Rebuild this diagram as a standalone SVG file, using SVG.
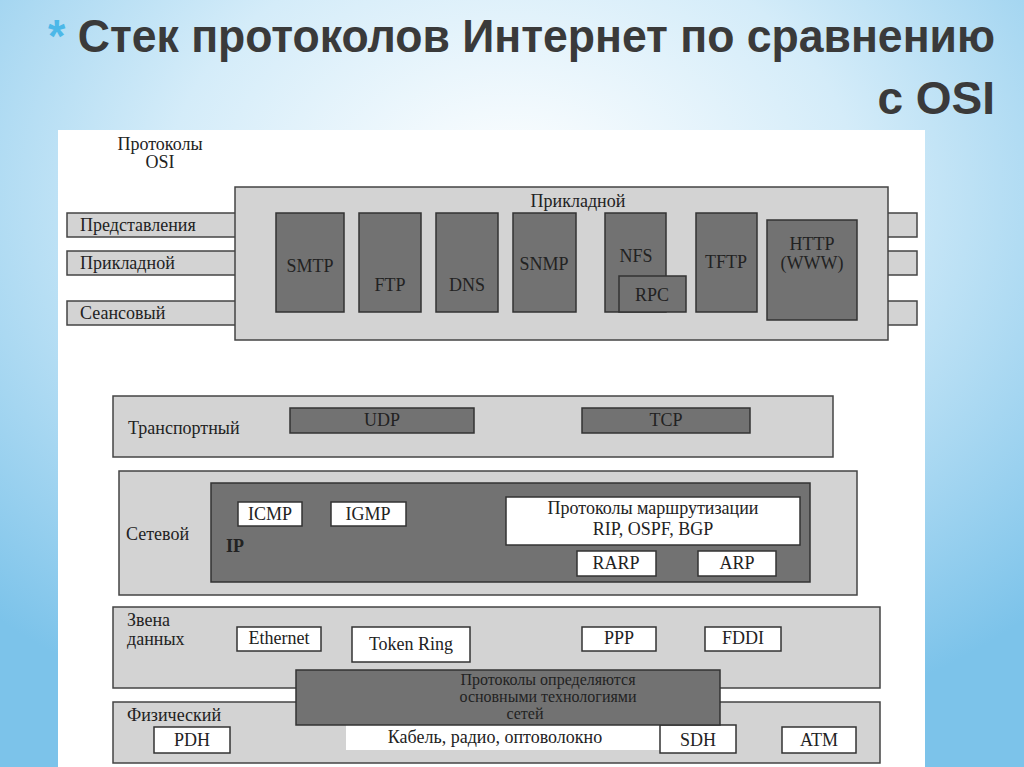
<svg xmlns="http://www.w3.org/2000/svg" width="1024" height="767" viewBox="0 0 1024 767">
<defs>
<radialGradient id="bg" cx="0.5" cy="0.25" r="0.75">
<stop offset="0" stop-color="#ffffff"/><stop offset="0.45" stop-color="#d4ecf9"/><stop offset="1" stop-color="#7cc3ea"/>
</radialGradient>
</defs>
<style>
.l{fill:#d3d3d3;stroke:#444;stroke-width:1.5}
.d{fill:#727272;stroke:#333;stroke-width:1.5}
.w{fill:#fff;stroke:#333;stroke-width:1.5}
text{font-family:"Liberation Serif",serif;font-size:18px;fill:#222}
.c{text-anchor:middle}
.s{font-size:16px}
.t{font-family:"Liberation Sans",sans-serif;font-weight:bold;font-size:46px;fill:#3a3a3a}
</style>
<rect width="1024" height="767" fill="url(#bg)"/>
<text class="t" x="48" y="52" textLength="947" lengthAdjust="spacingAndGlyphs"><tspan fill="#4cb8e8">*</tspan> Стек протоколов Интернет по сравнению</text>
<text class="t" x="995" y="114" text-anchor="end">с OSI</text>
<rect x="58" y="130" width="867" height="637" fill="#fff"/>
<g id="osi-label"><text class="c" x="160" y="150">Протоколы</text><text class="c" x="160" y="168">OSI</text></g>
<g id="app">
<rect class="l" x="67" y="213" width="173" height="24"/><text x="80" y="231">Представления</text>
<rect class="l" x="67" y="251" width="173" height="24"/><text x="80" y="269">Прикладной</text>
<rect class="l" x="67" y="301" width="173" height="24"/><text x="80" y="319">Сеансовый</text>
<rect class="l" x="885" y="213" width="32" height="24"/>
<rect class="l" x="885" y="251" width="32" height="24"/>
<rect class="l" x="885" y="301" width="32" height="24"/>
<rect class="l" x="235" y="187" width="653" height="153"/>
<text class="c" x="578" y="207">Прикладной</text>
<rect class="d" x="276" y="213" width="68" height="99"/><text class="c" x="310" y="272">SMTP</text>
<rect class="d" x="359" y="213" width="62" height="99"/><text class="c" x="390" y="291">FTP</text>
<rect class="d" x="436" y="213" width="62" height="99"/><text class="c" x="467" y="291">DNS</text>
<rect class="d" x="513" y="213" width="63" height="99"/><text class="c" x="544" y="270">SNMP</text>
<rect class="d" x="605" y="213" width="61" height="99"/><text class="c" x="636" y="262">NFS</text>
<rect class="d" x="619" y="276" width="67" height="36"/><text class="c" x="652" y="301">RPC</text>
<rect class="d" x="696" y="213" width="61" height="99"/><text class="c" x="726" y="268">TFTP</text>
<rect class="d" x="767" y="220" width="90" height="100"/><text class="c" x="812" y="250">HTTP</text><text class="c" x="812" y="269">(WWW)</text>
</g>
<g id="transport">
<rect class="l" x="113" y="396" width="720" height="61"/><text x="128" y="434">Транспортный</text>
<rect class="d" x="290" y="408" width="184" height="25"/><text class="c" x="382" y="426">UDP</text>
<rect class="d" x="582" y="408" width="168" height="25"/><text class="c" x="666" y="426">TCP</text>
</g>
<g id="network">
<rect class="l" x="119" y="471" width="738" height="124"/><text x="126" y="540">Сетевой</text>
<rect class="d" x="211" y="483" width="599" height="99" fill="#666"/><text x="226" y="552" font-weight="bold">IP</text>
<rect class="w" x="238" y="502" width="64" height="24"/><text class="c" x="270" y="520">ICMP</text>
<rect class="w" x="331" y="502" width="75" height="24"/><text class="c" x="368" y="520">IGMP</text>
<rect class="w" x="506" y="497" width="294" height="48"/><text class="c" x="653" y="514">Протоколы маршрутизации</text><text class="c" x="653" y="535">RIP, OSPF, BGP</text>
<rect class="w" x="577" y="551" width="79" height="25"/><text class="c" x="616" y="569">RARP</text>
<rect class="w" x="698" y="551" width="78" height="25"/><text class="c" x="737" y="569">ARP</text>
</g>
<g id="datalink">
<rect class="l" x="113" y="607" width="767" height="81"/><text x="127" y="626">Звена</text><text x="127" y="645">данных</text>
<rect class="w" x="237" y="627" width="84" height="24"/><text class="c" x="279" y="644">Ethernet</text>
<rect class="w" x="352" y="627" width="118" height="35"/><text class="c" x="411" y="650">Token Ring</text>
<rect class="w" x="582" y="627" width="74" height="24"/><text class="c" x="619" y="644">PPP</text>
<rect class="w" x="705" y="627" width="76" height="24"/><text class="c" x="743" y="644">FDDI</text>
</g>
<g id="physical">
<rect class="l" x="113" y="702" width="767" height="61"/><text x="127" y="721">Физический</text>
<rect class="w" x="154" y="727" width="76" height="26"/><text class="c" x="192" y="746">PDH</text>
<rect fill="#fff" x="346" y="725" width="314" height="25"/><text class="c" x="495" y="743">Кабель, радио, оптоволокно</text>
<rect class="w" x="660" y="725" width="76" height="28"/><text class="c" x="698" y="746">SDH</text>
<rect class="w" x="782" y="727" width="74" height="26"/><text class="c" x="819" y="746">ATM</text>
</g>
<g id="tech">
<rect class="d" x="296" y="670" width="424" height="55"/>
<text class="c s" x="548" y="685">Протоколы определяются</text>
<text class="c s" x="548" y="702">основными технологиями</text>
<text class="c s" x="525" y="719">сетей</text>
</g>
<g id="connectors"/>
</svg>
